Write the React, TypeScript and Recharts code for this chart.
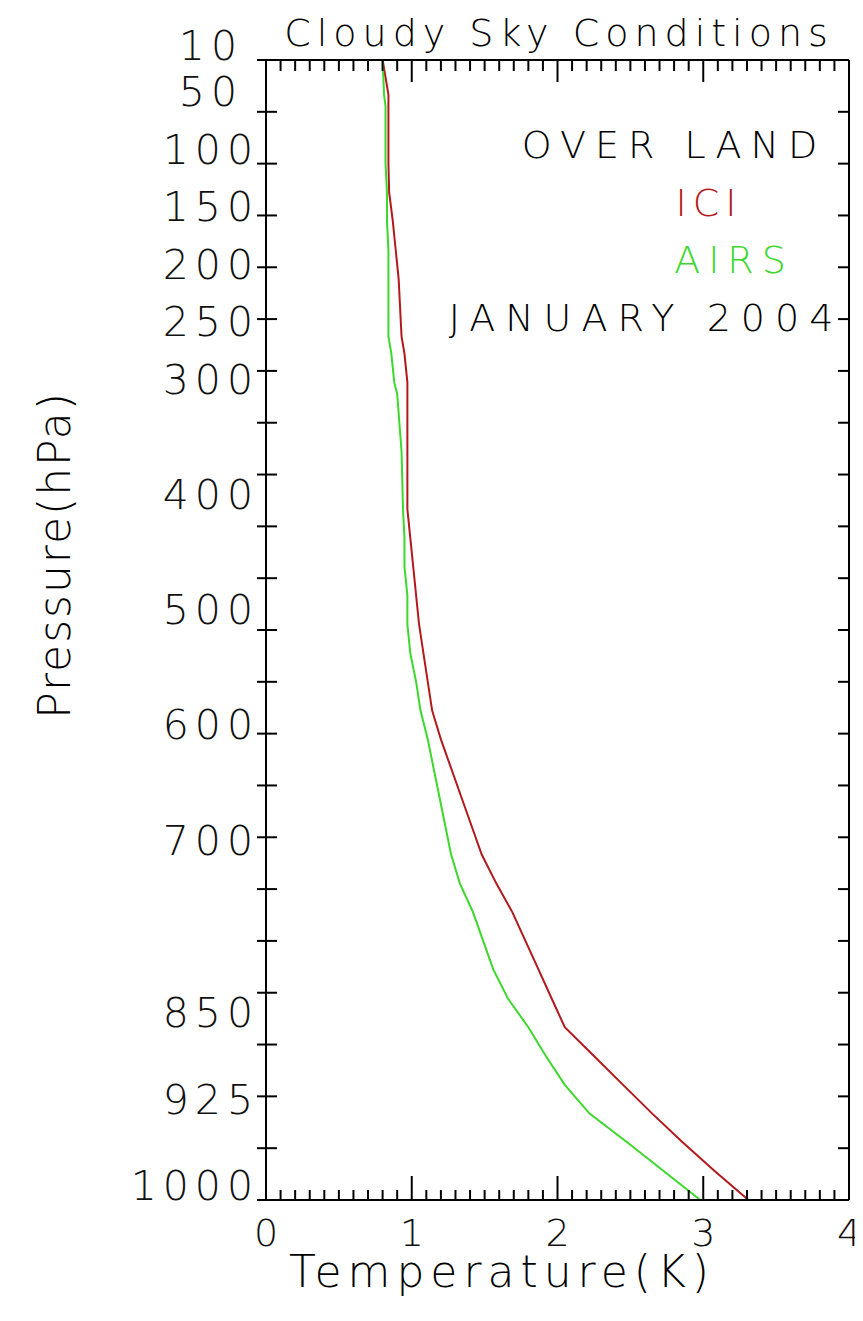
import React from "react";
import { LineChart, Line, XAxis, YAxis } from "recharts";

// pressure levels (hPa) and temperature differences (K)
const pressure = [10, 40, 50, 100, 125, 150, 175, 200, 250, 265, 290, 300, 350, 400, 425, 450, 475, 500, 525, 550, 575, 600, 625, 650, 675, 700, 725, 750, 775, 800, 825, 850, 875, 900, 925, 950, 975, 1000];
const ici = [0.8, 0.84, 0.84, 0.84, 0.845, 0.87, 0.89, 0.91, 0.93, 0.95, 0.97, 0.97, 0.97, 0.97, 0.99, 1.01, 1.03, 1.05, 1.08, 1.11, 1.14, 1.2, 1.27, 1.34, 1.41, 1.48, 1.58, 1.69, 1.78, 1.87, 1.96, 2.05, 2.25, 2.45, 2.65, 2.86, 3.08, 3.31];
const airs = [0.8, 0.81, 0.82, 0.82, 0.83, 0.83, 0.84, 0.84, 0.84, 0.86, 0.88, 0.9, 0.93, 0.94, 0.95, 0.95, 0.97, 0.97, 0.99, 1.03, 1.06, 1.11, 1.15, 1.19, 1.23, 1.27, 1.33, 1.42, 1.49, 1.56, 1.66, 1.8, 1.92, 2.05, 2.22, 2.48, 2.73, 2.98];

const yLabels = [10, 50, 100, 150, 200, 250, 300, 400, 500, 600, 700, 850, 925, 1000];
const yTickMarks = [10, 55, 100, 145, 190, 235, 280, 325, 370, 415, 460, 505, 550, 595, 640, 685, 730, 775, 820, 865, 910, 955, 1000];
const xLabels = [0, 1, 2, 3, 4];
const xTicks = Array.from({ length: 41 }, (_, i) => i / 10);

const data = pressure.map((p, i) => ({ p, ici: ici[i], airs: airs[i] }));
const yTicks = Array.from(new Set([...yLabels, ...yTickMarks])).sort((a, b) => a - b);

const FONT = "'DejaVu Sans', sans-serif";
const RED = "#b3191c";
const GREEN = "#3cd82c";
const PLOT_W = 583; // width of the plot frame, used for the inward ticks on the right side

const LeftTick = (props: any) => {
    const { x, y, payload } = props;
    const v = payload.value;
    const mark = yTickMarks.includes(v);
    return (
        <g>
            {mark && <line x1={x - 9} x2={x + 11} y1={y} y2={y} stroke="#000" strokeWidth={2} />}
            {mark && <line x1={x + PLOT_W - 11} x2={x + PLOT_W} y1={y} y2={y} stroke="#000" strokeWidth={2} />}
            {yLabels.includes(v) && (
                <text x={v < 100 ? x - 23 : x - 7} y={y} textAnchor="end" fontFamily={FONT} fontSize={41} fontWeight={300} letterSpacing={6} fill="#111">
                    {v}
                </text>
            )}
        </g>
    );
};

const BottomTick = (props: any) => {
    const { x, y, payload } = props;
    const v = payload.value;
    const major = Number.isInteger(v);
    return (
        <g>
            <line x1={x} x2={x} y1={y} y2={y - (major ? 24 : 10)} stroke="#000" strokeWidth={2} />
            {major && xLabels.includes(v) && (
                <text x={x} y={y + 46} textAnchor="middle" fontFamily={FONT} fontSize={38} fontWeight={300} fill="#111">
                    {v}
                </text>
            )}
        </g>
    );
};

const TopTick = (props: any) => {
    const { x, y, payload } = props;
    const major = Number.isInteger(payload.value);
    return <line x1={x} x2={x} y1={y} y2={y + (major ? 22 : 11)} stroke="#000" strokeWidth={2} />;
};

const textBase: React.CSSProperties = {
    position: "absolute",
    fontFamily: FONT,
    fontWeight: 300,
    lineHeight: 1,
    whiteSpace: "nowrap",
    transform: "translate(-50%, -50%)",
};

export default function App() {
    return (
        <div style={{ position: "relative", width: 855, height: 1313, background: "#fff" }}>
            <LineChart width={855} height={1313} data={data} layout="vertical" margin={{ top: 0, right: 0, bottom: 0, left: 0 }}>
                <XAxis
                    type="number"
                    domain={[0, 4]}
                    ticks={xTicks}
                    interval={0}
                    height={121}
                    tickSize={0}
                    tickMargin={0}
                    tickLine={false}
                    tick={<BottomTick />}
                    axisLine={{ stroke: "#000", strokeWidth: 2 }}
                />
                <XAxis
                    xAxisId="top"
                    orientation="top"
                    type="number"
                    domain={[0, 4]}
                    ticks={xTicks}
                    interval={0}
                    height={52}
                    tickSize={0}
                    tickMargin={0}
                    tickLine={false}
                    tick={<TopTick />}
                    axisLine={{ stroke: "#000", strokeWidth: 2 }}
                />
                <YAxis
                    type="number"
                    dataKey="p"
                    domain={[10, 1000]}
                    ticks={yTicks}
                    interval={0}
                    width={258}
                    tickSize={0}
                    tickMargin={0}
                    tickLine={false}
                    tick={<LeftTick />}
                    axisLine={{ stroke: "#000", strokeWidth: 2 }}
                />
                <YAxis
                    yAxisId="right"
                    orientation="right"
                    type="number"
                    dataKey="p"
                    domain={[10, 1000]}
                    width={14}
                    tick={false}
                    tickLine={false}
                    axisLine={{ stroke: "#000", strokeWidth: 2 }}
                />
                <Line dataKey="ici" stroke={RED} strokeWidth={2} dot={false} isAnimationActive={false} />
                <Line dataKey="airs" stroke={GREEN} strokeWidth={2} dot={false} isAnimationActive={false} />
                {/* invisible copy so the top and right frame axes get a scale */}
                <Line xAxisId="top" yAxisId="right" dataKey="airs" stroke="none" dot={false} activeDot={false} isAnimationActive={false} />
            </LineChart>

            <div style={{ ...textBase, left: 551, top: 25, fontSize: 38, letterSpacing: 6 }}>Cloudy Sky Conditions</div>
            <div style={{ ...textBase, left: 666, top: 137, fontSize: 38, letterSpacing: 9 }}>OVER LAND</div>
            <div style={{ ...textBase, left: 701, top: 195, fontSize: 38, letterSpacing: 6, color: RED }}>ICI</div>
            <div style={{ ...textBase, left: 726, top: 252, fontSize: 38, letterSpacing: 8, color: GREEN }}>AIRS</div>
            <div style={{ ...textBase, left: 638, top: 310, fontSize: 38, letterSpacing: 10 }}>JANUARY 2004</div>
            <div style={{ ...textBase, left: 494, top: 1264, fontSize: 44, letterSpacing: 6 }}>Temperature(K)</div>
            <div style={{ ...textBase, left: 47, top: 547, fontSize: 44, letterSpacing: 2, transform: "translate(-50%, -50%) rotate(-90deg)" }}>
                Pressure(hPa)
            </div>
        </div>
    );
}
